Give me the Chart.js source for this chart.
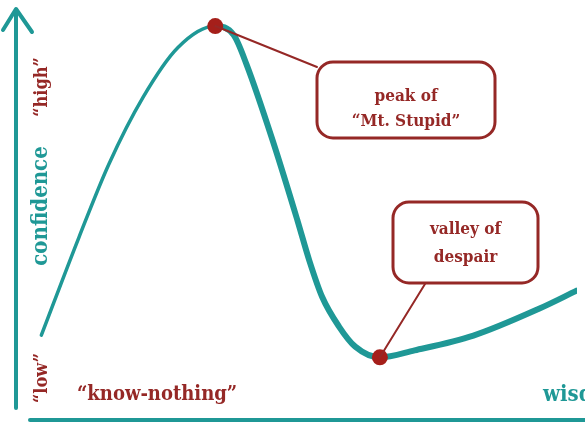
<!DOCTYPE html>
<html>
<head>
<meta charset="utf-8">
<script src="https://cdn.jsdelivr.net/npm/chart.js@4.4.1/dist/chart.umd.min.js"></script>
<style>
    html, body { margin: 0; padding: 0; background: #fff; }
    canvas { display: block; }
</style>
</head>
<body>
<canvas id="dkChart" width="585" height="426"></canvas>
<script>
// Curve data (wisdom 0-100, confidence 0-100)
const wisdom = [4.35, 11.1, 16.4, 22.5, 28.7, 35.4,
    38.7, 41.0, 45.7, 50.1, 52.2, 54.5, 57.5, 60.4, 64.8,
    71.0, 81.5, 93.3, 100];
const confidence = [20.2, 44.2, 61.9, 78.2, 90.3, 95.6,
    93.4, 86.2, 67.5, 48.1, 38.4, 29.5, 22.3, 17.4, 14.8,
    16.5, 20.1, 26.7, 31.1];

// Milestones marked with dots
const milestoneNames = ['peak of|“Mt. Stupid”', 'valley of|despair'];
const milestoneWisdom = [35.4, 64.8];
const milestoneConfidence = [95.6, 14.8];

// Axis words
const yAxisTitle = 'confidence';
const yAxisLow = '“low”';
const yAxisHigh = '“high”';
const xAxisTitle = 'wisdom';
const xAxisLow = '“know-nothing”';

// Colors
const TEAL = '#1f9896';
const RED = '#952826';
const DOT = '#a51f1a';
const SERIF = '"DejaVu Serif Condensed", "Liberation Serif", serif';

const peakIndex = confidence.indexOf(Math.max(...confidence));

// Callout boxes (pixel layout, linked to milestone index)
const callouts = [
    { box: [317, 62, 178, 76], lines: [97, 122], size: 17 },
    { box: [393, 202, 145, 81], lines: [230, 258], size: 17 }
];

// Axes, labels and callouts
const decorPlugin = {
    id: 'decor',
    afterDraw(chart) {
        const ctx = chart.ctx;
        const x = chart.scales.x;
        const y = chart.scales.y;
        ctx.save();
        ctx.lineCap = 'round';
        ctx.lineJoin = 'round';

        // y axis with arrow
        ctx.strokeStyle = TEAL;
        ctx.lineWidth = 4;
        ctx.beginPath();
        ctx.moveTo(16, 10);
        ctx.lineTo(16, 408);
        ctx.moveTo(3, 30);
        ctx.lineTo(16, 9);
        ctx.lineTo(32, 32);
        ctx.stroke();

        // x axis
        ctx.beginPath();
        ctx.moveTo(30, 420);
        ctx.lineTo(590, 420);
        ctx.stroke();

        // rotated y labels
        ctx.textAlign = 'center';
        ctx.textBaseline = 'middle';
        const vText = (text, cx, cy, color, size) => {
            ctx.save();
            ctx.translate(cx, cy);
            ctx.rotate(-Math.PI / 2);
            ctx.fillStyle = color;
            ctx.font = `bold ${size}px ${SERIF}`;
            ctx.fillText(text, 0, 0);
            ctx.restore();
        };
        vText(yAxisHigh, 42, 87, RED, 18);
        vText(yAxisTitle, 41, 206, TEAL, 22);
        vText(yAxisLow, 42, 378, RED, 18);

        // x labels
        ctx.fillStyle = RED;
        ctx.font = `bold 20px ${SERIF}`;
        ctx.textAlign = 'left';
        ctx.fillText(xAxisLow, 77, 395);
        ctx.fillStyle = TEAL;
        ctx.font = `bold 22px ${SERIF}`;
        ctx.fillText(xAxisTitle, 543, 395);

        // callouts
        callouts.forEach((c, i) => {
            const [bx, by, bw, bh] = c.box;
            const px = x.getPixelForValue(milestoneWisdom[i]);
            const py = y.getPixelForValue(milestoneConfidence[i]);
            ctx.strokeStyle = RED;
            ctx.lineWidth = 2;
            ctx.beginPath();
            ctx.moveTo(px, py);
            if (i === 0) ctx.lineTo(bx, by + 5);
            else ctx.lineTo(bx + 32, by + bh + 1);
            ctx.stroke();

            ctx.lineWidth = 3;
            ctx.beginPath();
            ctx.roundRect(bx, by, bw, bh, 16);
            ctx.fillStyle = '#fff';
            ctx.fill();
            ctx.stroke();

            ctx.fillStyle = RED;
            ctx.font = `bold ${c.size}px ${SERIF}`;
            ctx.textAlign = 'center';
            milestoneNames[i].split('|').forEach((t, j) => {
                ctx.fillText(t, bx + bw / 2, c.lines[j]);
            });
        });
        ctx.restore();
    }
};

new Chart(document.getElementById('dkChart'), {
    type: 'line',
    data: {
        datasets: [
            {
                label: 'milestones',
                data: milestoneWisdom.map((w, i) => ({ x: w, y: milestoneConfidence[i] })),
                showLine: false,
                pointRadius: 8,
                pointBackgroundColor: DOT,
                pointBorderWidth: 0,
                order: 0
            },
            {
                label: 'confidence',
                data: wisdom.map((w, i) => ({ x: w, y: confidence[i] })),
                borderColor: TEAL,
                borderWidth: 6,
                pointRadius: 0,
                cubicInterpolationMode: 'monotone',
                borderCapStyle: 'round',
                segment: {
                    borderWidth: ctx => ctx.p0DataIndex < peakIndex ? 3.5 : 6
                },
                order: 1
            }
        ]
    },
    options: {
        responsive: false,
        animation: false,
        layout: { padding: { left: 17, top: 8, right: 0, bottom: 6 } },
        plugins: {
            legend: { display: false },
            tooltip: { enabled: false }
        },
        scales: {
            x: { type: 'linear', min: 0, max: 100, display: false },
            y: { type: 'linear', min: 0, max: 100, display: false }
        }
    },
    plugins: [decorPlugin]
});
</script>
</body>
</html>
